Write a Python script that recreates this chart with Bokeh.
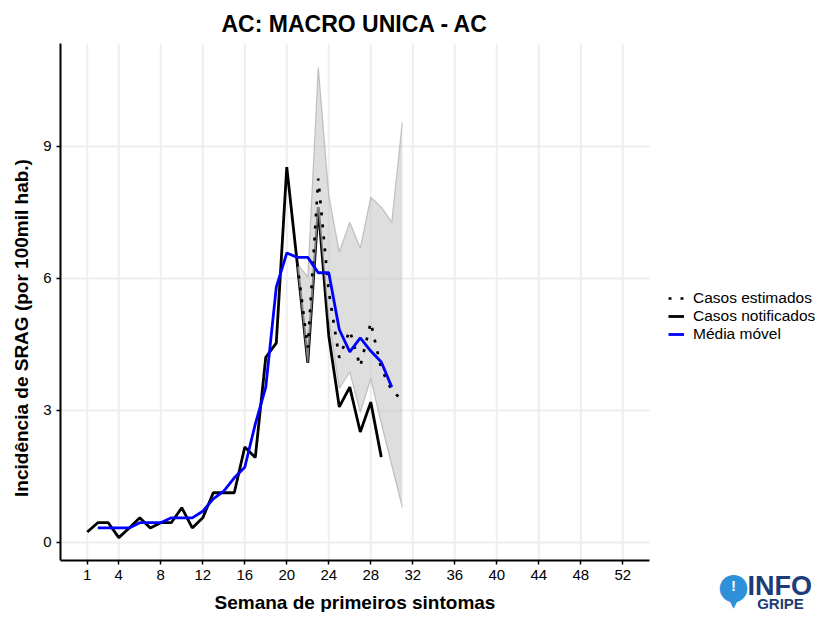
from bokeh.plotting import figure
from bokeh.models import Range1d, FixedTicker, Legend, LegendItem, Label
from bokeh.embed import file_html
from bokeh.resources import INLINE

# ---------------- data ----------------
weeks_notified = list(range(1, 30))
notified = [0.24, 0.45, 0.45, 0.11, 0.33, 0.56, 0.33, 0.45, 0.45, 0.79,
            0.33, 0.56, 1.13, 1.13, 1.13, 2.17, 1.93, 4.21, 4.53, 8.53,
            6.34, 4.08, 7.62, 4.70, 3.08, 3.53, 2.51, 3.19, 1.94]

weeks_ma = list(range(2, 31))
moving_avg = [0.33, 0.33, 0.33, 0.33, 0.45, 0.45, 0.45, 0.56, 0.56, 0.56,
              0.71, 0.99, 1.17, 1.47, 1.71, 2.69, 3.53, 5.80, 6.58, 6.48,
              6.48, 6.13, 6.13, 4.84, 4.33, 4.65, 4.35, 4.10, 3.53]

weeks_est = list(range(21, 32))
estimated = [6.34, 4.43, 8.27, 5.70, 4.20, 4.82, 4.00, 5.00, 3.95, 3.45, 3.24]
est_upper = [6.34, 6.03, 10.80, 7.89, 6.60, 7.28, 6.69, 7.85, 7.62, 7.28, 9.55]
est_lower = [6.34, 4.08, 7.62, 5.10, 3.50, 3.87, 2.96, 3.72, 2.71, 1.75, 0.80]

x_ticks = [1, 4, 8, 12, 16, 20, 24, 28, 32, 36, 40, 44, 48, 52]
y_ticks = [0, 3, 6, 9]

title_text = "AC: MACRO UNICA - AC"
x_label = "Semana de primeiros sintomas"
y_label = "Incidência de SRAG (por 100mil hab.)"
legend_labels = ["Casos estimados", "Casos notificados", "Média móvel"]

FONT = "Liberation Sans"

# visible panel limits (data units); the frame extends further right/down
X_LO, X_HI = -1.55, 54.55
Y_LO, Y_HI = -0.41, 11.34

# ---------------- figure ----------------
p = figure(width=820, height=612, output_backend="svg", toolbar_location=None,
           x_range=Range1d(X_LO, 70.83), y_range=Range1d(-1.591, Y_HI),
           min_border_left=60, min_border_right=0, min_border_top=43,
           min_border_bottom=0)
p.outline_line_color = None
p.background_fill_color = "white"
p.border_fill_color = "white"

p.title.text = title_text
p.title.align = "left"
p.title.offset = 161
p.title.text_font = FONT
p.title.text_font_size = "23px"
p.title.text_font_style = "bold"
p.title.text_color = "black"
p.title.standoff = 14

# grid drawn only inside the panel area
p.grid.visible = False
p.segment(x0=x_ticks, y0=[Y_LO] * len(x_ticks), x1=x_ticks, y1=[Y_HI] * len(x_ticks),
          line_color="#eeeeee", line_width=2)
p.segment(x0=[X_LO] * len(y_ticks), y0=y_ticks, x1=[X_HI] * len(y_ticks), y1=y_ticks,
          line_color="#eeeeee", line_width=2)

# axes
p.xaxis.ticker = FixedTicker(ticks=x_ticks)
p.yaxis.ticker = FixedTicker(ticks=y_ticks)
p.xaxis.bounds = (X_LO, X_HI)
p.yaxis.bounds = (Y_LO, Y_HI)
p.xaxis.fixed_location = Y_LO
p.axis.axis_line_color = "black"
p.axis.axis_line_width = 2
p.axis.major_tick_line_color = "black"
p.axis.major_tick_line_width = 1.5
p.axis.major_tick_in = 0
p.axis.major_tick_out = 4
p.axis.minor_tick_line_color = None
p.axis.major_label_text_font = FONT
p.axis.major_label_text_font_size = "15px"
p.axis.major_label_text_color = "black"
p.xaxis.major_label_standoff = 5
p.yaxis.major_label_standoff = 5
p.axis.axis_label_text_font = FONT
p.axis.axis_label_text_font_size = "19px"
p.axis.axis_label_text_font_style = "bold"
p.axis.axis_label_text_color = "black"
p.xaxis.axis_label = x_label
p.yaxis.axis_label = y_label
p.xaxis.axis_label_standoff = 9
p.yaxis.axis_label_standoff = 8

# ---------------- glyphs ----------------
r_not = p.line(weeks_notified, notified, line_color="black", line_width=2.8)
p.varea(x=weeks_est, y1=est_lower, y2=est_upper, fill_color="#c8c8c8", fill_alpha=0.6)
p.line(weeks_est, est_upper, line_color="#a0a0a0", line_alpha=0.6, line_width=1.2)
p.line(weeks_est, est_lower, line_color="#a0a0a0", line_alpha=0.6, line_width=1.2)
r_est = p.line(weeks_est, estimated, line_color="black", line_width=2.7, line_dash="3 9")
r_ma = p.line(weeks_ma, moving_avg, line_color="#0000ff", line_width=2.8)

legend = Legend(items=[LegendItem(label=legend_labels[0], renderers=[r_est]),
                       LegendItem(label=legend_labels[1], renderers=[r_not]),
                       LegendItem(label=legend_labels[2], renderers=[r_ma])],
                location=(608, 269))
legend.border_line_color = None
legend.background_fill_alpha = 0
legend.padding = 0
legend.margin = 0
legend.spacing = 0
legend.glyph_width = 16
legend.glyph_height = 16
legend.label_height = 16
legend.label_standoff = 9
legend.label_text_font = FONT
legend.label_text_font_size = "15.5px"
legend.label_text_color = "black"
p.add_layout(legend, "center")

# ---------------- logo (screen units, relative to the frame) ----------------
PIN = "#2e90d9"
NAVY = "#1d3c78"
logo = [
    Label(x=673, y=14, x_units="screen", y_units="screen", text="▼",
          text_font="DejaVu Sans", text_font_size="22px",
          text_color=PIN, text_align="center", text_baseline="middle"),
    Label(x=673, y=27, x_units="screen", y_units="screen", text="●",
          text_font="DejaVu Sans", text_font_size="36px",
          text_color=PIN, text_align="center", text_baseline="middle"),
    Label(x=673, y=27, x_units="screen", y_units="screen", text="!",
          text_font=FONT, text_font_size="15px", text_font_style="bold",
          text_color="white", text_align="center", text_baseline="middle"),
    Label(x=687, y=27, x_units="screen", y_units="screen", text="INFO",
          text_font=FONT, text_font_size="27px", text_font_style="bold",
          text_color=NAVY, text_align="left", text_baseline="middle"),
    Label(x=720, y=9, x_units="screen", y_units="screen", text="GRIPE",
          text_font=FONT, text_font_size="15px", text_font_style="bold",
          text_color=NAVY, text_align="center", text_baseline="middle"),
]
for lab in logo:
    p.add_layout(lab)

open("out.html", "w").write(file_html(p, INLINE))
